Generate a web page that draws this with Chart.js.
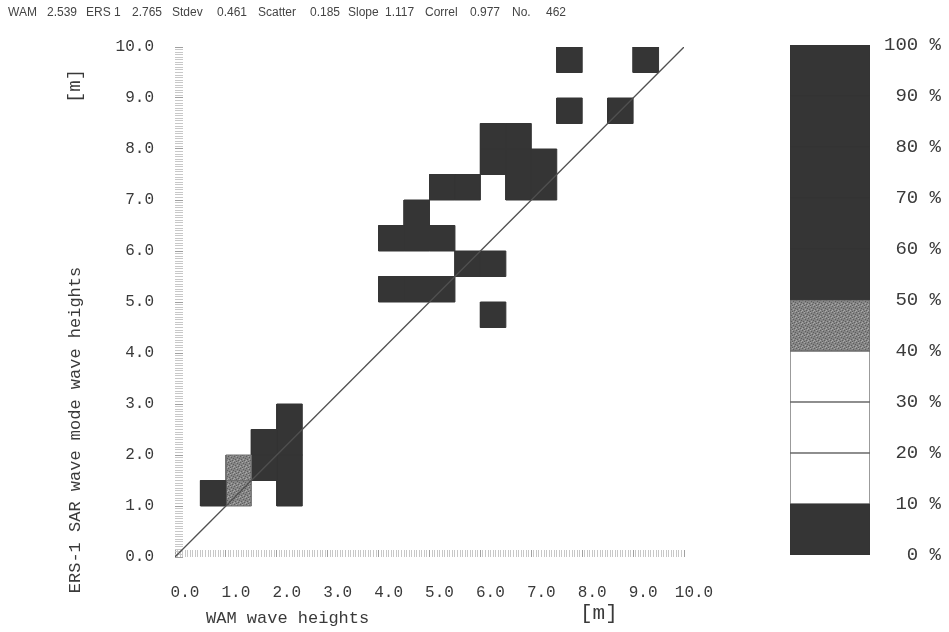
<!DOCTYPE html>
<html><head><meta charset="utf-8">
<script src="https://cdn.jsdelivr.net/npm/chart.js@4/dist/chart.umd.min.js"></script>
<style>
html,body{margin:0;padding:0;background:#fff;width:949px;height:632px;overflow:hidden;position:relative;}
#main{position:absolute;left:0;top:0;}
#bar{position:absolute;left:700px;top:0;}
.t{position:absolute;white-space:nowrap;color:#3a3a3a;}
.hdr{font:12px "Liberation Sans",sans-serif;top:5px;color:#444;}
.ax{font:17px "Liberation Mono",monospace;}
</style></head><body>
<canvas id="main" width="949" height="632"></canvas>
<canvas id="bar" width="249" height="632"></canvas>
<div id="hdr"></div>
<div class="t ax" style="left:206px;top:609px;">WAM wave heights</div>
<div class="t ax" style="left:580px;top:602px;font-size:21px;">[m]</div>
<div class="t ax" style="left:75px;top:430px;transform:translate(-50%,-50%) rotate(-90deg);">ERS-1 SAR wave mode wave heights</div>
<div class="t ax" style="left:75px;top:86px;transform:translate(-50%,-50%) rotate(-90deg);font-size:19px;">[m]</div>
<script>
// ---- data ----
const headerTokens = ["WAM","2.539","ERS 1","2.765","Stdev","0.461","Scatter","0.185","Slope","1.117","Correl","0.977","No.","462"];
const axisMin = 0, axisMax = 10;
const binSize = 0.5;
// lower-left corners of occupied 0.5 m x 0.5 m bins (WAM, ERS-1)
const cellX = [0.5, 1.0,1.0, 1.5,1.5, 2.0,2.0,2.0,2.0, 4.0,4.5,5.0, 4.5, 5.0,5.5, 6.0,6.5,6.0,6.5, 6.5,7.0,7.0, 4.0,4.5,5.0, 5.5,6.0, 6.0, 7.5, 7.5, 8.5, 9.0];
const cellY = [1.0, 1.0,1.5, 1.5,2.0, 1.0,1.5,2.0,2.5, 6.0,6.0,6.0, 6.5, 7.0,7.0, 7.5,7.5,8.0,8.0, 7.0,7.0,7.5, 5.0,5.0,5.0, 5.5,5.5, 4.5, 9.5, 8.5, 8.5, 9.5];
const cellShade = ["dark","gray","gray","dark","dark","dark","dark","dark","dark","dark","dark","dark","dark","dark","dark","dark","dark","dark","dark","dark","dark","dark","dark","dark","dark","dark","dark","dark","dark","dark","dark","dark"];
const diagX = [0, 10];
const diagY = [0, 10];
// colour scale segments (percent)
const scaleSegments = [10,10,10,10,10,10,10,10,10,10];
const scaleShade = ["dark","white","white","white","gray","dark","dark","dark","dark","dark"];

// ---- header ----
const hdrX = [8,47,86,132,172,217,258,310,348,385,425,470,512,546];
const hdr = document.getElementById('hdr');
headerTokens.forEach((t,i)=>{const d=document.createElement('div');d.className='t hdr';d.style.left=hdrX[i]+'px';d.textContent=t;hdr.appendChild(d);});

// ---- fills ----
function stipple(){
  const c=document.createElement('canvas');c.width=6;c.height=6;const g=c.getContext('2d');
  g.fillStyle='#858585';g.fillRect(0,0,6,6);
  g.fillStyle='#5e5e5e';[[0,0],[3,1],[1,3],[4,4],[5,2],[2,5]].forEach(p=>g.fillRect(p[0],p[1],1,1));
  g.fillStyle='#a8a8a8';[[2,0],[5,5],[0,4],[3,3]].forEach(p=>g.fillRect(p[0],p[1],1,1));
  return g.createPattern(c,'repeat');
}
const grayPat = stipple();
const fillOf = {dark:'#353535', gray:grayPat, white:'#ffffff'};
const edgeOf = {dark:'#353535', gray:'#6e6e6e', white:'#6a6a6a'};

const isInt = v => Math.abs(v - Math.round(v)) < 1e-6;

const datasets = [{
  label:'diag', data: diagX.map((x,i)=>({x, y: diagY[i]})),
  borderColor:'#505050', borderWidth:1.3, pointRadius:0, fill:false, order:0, tension:0
}];
cellX.forEach((x0,i)=>{
  const y0 = cellY[i], x1 = x0 + binSize, y1 = y0 + binSize;
  datasets.push({
    label:'cell'+i,
    data:[{x:x0,y:y0},{x:x1,y:y0},{x:x1,y:y1},{x:x0,y:y1},{x:x0,y:y0}],
    fill:'shape', backgroundColor: fillOf[cellShade[i]], borderColor: edgeOf[cellShade[i]],
    borderWidth:1, pointRadius:0, tension:0, order:1
  });
});

new Chart(document.getElementById('main'), {
  type:'line',
  data:{datasets},
  options:{
    responsive:false, animation:false,
    layout:{padding:{left:100, right:265, top:47, bottom:30}},
    plugins:{legend:{display:false}, tooltip:{enabled:false}},
    scales:{
      x:{type:'linear', min:axisMin, max:axisMax, position:'bottom',
        ticks:{stepSize:0.05, autoSkip:false, maxRotation:0, minRotation:0, labelOffset:10, padding:33,
          color:'#3a3a3a', font:{family:'Liberation Mono', size:16},
          callback:v=> isInt(v) ? Number(v).toFixed(1) : ''},
        grid:{drawOnChartArea:false, drawTicks:true, tickLength:-7, tickWidth:1,
          tickColor:c=> isInt(c.tick.value) ? '#a0a0a0' : '#c8c8c8'},
        border:{display:false},
        afterFit:s=>{s.height=45;}
      },
      y:{type:'linear', min:axisMin, max:axisMax, position:'left',
        ticks:{stepSize:0.05, autoSkip:false, padding:29,
          color:'#3a3a3a', font:{family:'Liberation Mono', size:16},
          callback:v=> isInt(v) ? Number(v).toFixed(1) : ''},
        grid:{drawOnChartArea:false, drawTicks:true, tickLength:-8, tickWidth:1,
          tickColor:c=> isInt(c.tick.value) ? '#a0a0a0' : '#c8c8c8'},
        border:{display:false},
        afterFit:s=>{s.width=75;}
      }
    }
  }
});

// ---- colour scale ----
const barSets = scaleSegments.map((v,i)=>({
  label:'seg'+i, data:[v], backgroundColor: fillOf[scaleShade[i]], borderColor: edgeOf[scaleShade[i]],
  borderWidth:1, borderSkipped:false, barPercentage:1, categoryPercentage:1, stack:'s'
}));
new Chart(document.getElementById('bar'), {
  type:'bar',
  data:{labels:[''], datasets:barSets},
  options:{
    responsive:false, animation:false,
    layout:{padding:{left:90, right:8, top:45, bottom:77}},
    plugins:{legend:{display:false}, tooltip:{enabled:false}},
    scales:{
      x:{display:false, stacked:true},
      y:{stacked:true, min:0, max:100, position:'right',
        ticks:{stepSize:10, crossAlign:'far', padding:5, color:'#3a3a3a',
          font:{family:'Liberation Mono', size:19}, callback:v=> v + ' %'},
        grid:{display:false, drawTicks:false},
        border:{display:false},
        afterFit:s=>{s.width=71;}
      }
    }
  }
});
</script>
</body></html>
